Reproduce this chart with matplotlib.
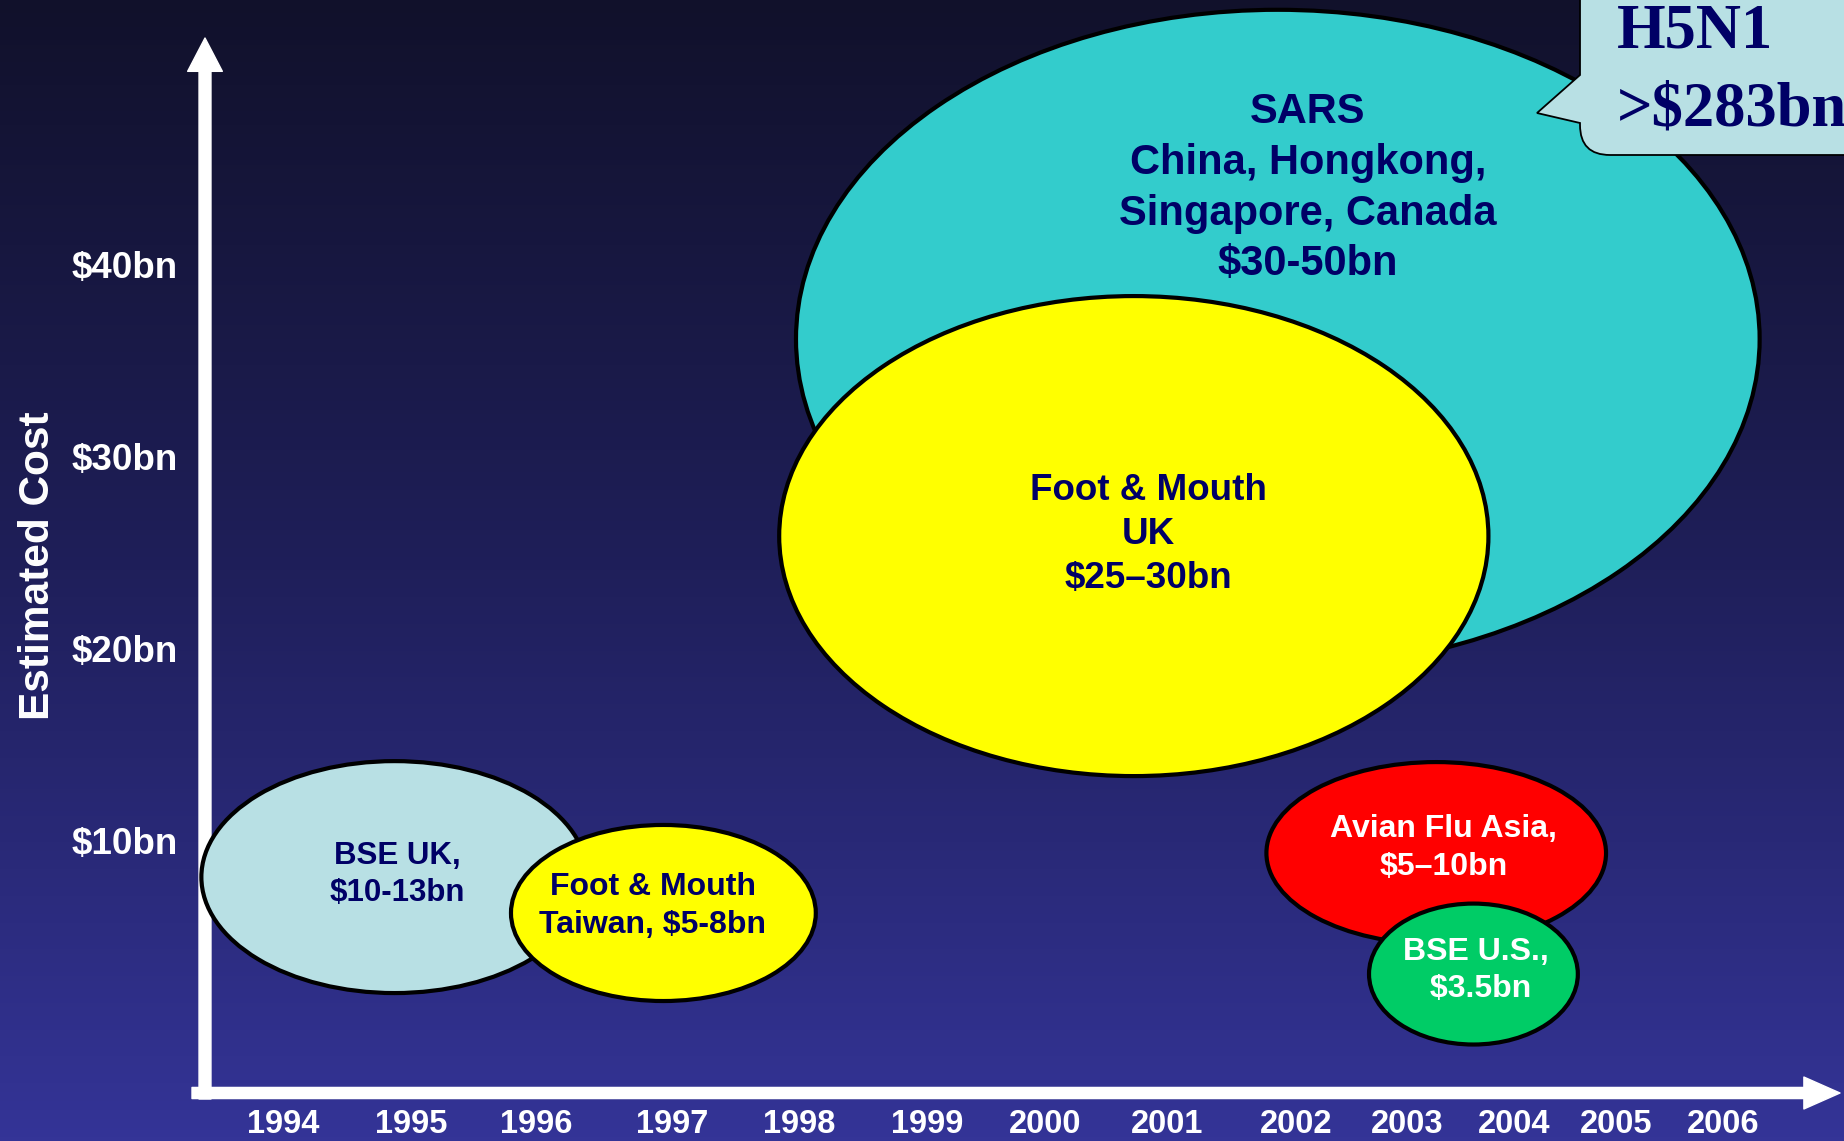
import numpy as np
import matplotlib
matplotlib.use('Agg')
import matplotlib.pyplot as plt
from matplotlib import font_manager
from matplotlib.patches import Ellipse, FancyArrowPatch, PathPatch
from matplotlib.path import Path
from matplotlib.colors import LinearSegmentedColormap

# outbreak bubbles: centre year / centre cost ($bn) and spans
events = ['SARS', 'Foot & Mouth UK', 'BSE UK', 'Foot & Mouth Taiwan',
          'Avian Flu Asia', 'BSE U.S.']
labels = ['SARS\nChina, Hongkong,\nSingapore, Canada\n$30-50bn',
          'Foot & Mouth\nUK\n$25–30bn',
          'BSE UK,\n$10-13bn',
          'Foot & Mouth\nTaiwan, $5-8bn',
          'Avian Flu Asia,\n$5–10bn',
          'BSE U.S.,\n $3.5bn']
center_year = [2002.29, 2001.09, 1994.93, 1997.17, 2003.61, 2003.92]
center_cost = [36.14, 25.88, 8.12, 6.25, 9.37, 3.07]
span_year = [8.03, 5.91, 3.22, 2.54, 2.83, 1.74]
span_cost = [34.3, 25.0, 12.08, 9.17, 9.48, 7.34]
label_year = [2002.54, 2001.21, 1994.95, 1997.08, 2003.67, 2003.94]
label_cost = [44.0, 25.95, 8.25, 6.6, 9.65, 3.25]
fill_colors = ['#33CCCC', '#FFFF00', '#B8E0E4', '#FFFF00', '#FF0000', '#00CC66']
text_colors = ['#000066', '#000066', '#000066', '#000066', 'white', 'white']
label_sizes = [30, 26.5, 22.5, 23, 23, 23]
label_spacing = [1.35, 1.34, 1.33, 1.36, 1.33, 1.33]

years = [1994, 1995, 1996, 1997, 1998, 1999, 2000, 2001, 2002, 2003, 2004, 2005, 2006]
year_pos = [1994.0, 1995.07, 1996.11, 1997.24, 1998.3, 1999.37, 2000.35,
            2001.37, 2002.44, 2003.37, 2004.26, 2005.11, 2006.0]
cost_ticks = [10, 20, 30, 40]
cost_labels = ['$10bn', '$20bn', '$30bn', '$40bn']

W, H = 1844, 1141
installed = {f.name for f in font_manager.fontManager.ttflist}
narrow = 'Liberation Sans Narrow' if 'Liberation Sans Narrow' in installed else 'Liberation Sans'
plt.rcParams['font.family'] = ['Liberation Sans', 'DejaVu Sans']


def P(x, y):
    # pixel position (top-left origin) -> axes fraction
    return (x / W, 1 - y / H)


fig = plt.figure(figsize=(W / 100, H / 100), dpi=100)
ax = fig.add_axes([0, 0, 1, 1])

# background gradient
cmap = LinearSegmentedColormap.from_list('bg', ['#11112b', '#1f1f5a', '#343497'])
ax.imshow(np.linspace(0, 1, 256).reshape(-1, 1), cmap=cmap, aspect='auto',
          extent=(0, 1, 0, 1), transform=ax.transAxes, zorder=0)
ax.set_xlim(1991.642, 2007.008)
ax.set_ylim(-5.625, 53.80)
ax.axis('off')

# axis arrows
ax.add_patch(FancyArrowPatch(P(205, 1099), P(205, 38), transform=ax.transAxes,
                             arrowstyle='Simple,tail_width=8.6,head_width=25,head_length=24',
                             color='white', shrinkA=0, shrinkB=0, zorder=1))
ax.add_patch(FancyArrowPatch(P(192, 1093), P(1840, 1093), transform=ax.transAxes,
                             arrowstyle='Simple,tail_width=8,head_width=23,head_length=26',
                             color='white', shrinkA=0, shrinkB=0, zorder=1))

# bubbles
for i in range(len(events)):
    ax.add_patch(Ellipse((center_year[i], center_cost[i]), span_year[i], span_cost[i],
                         facecolor=fill_colors[i], edgecolor='black', lw=3, zorder=2 + i))
    ax.text(label_year[i], label_cost[i], labels[i], color=text_colors[i],
            fontsize=label_sizes[i], fontweight='bold', ha='center', va='center',
            linespacing=label_spacing[i], zorder=2 + i)

# tick labels
for yr, xp in zip(years, year_pos):
    ax.text(xp, -5.2, str(yr), color='white', fontsize=23.5, fontweight='bold',
            family=narrow, ha='center', va='baseline')
for c, lab in zip(cost_ticks, cost_labels):
    ax.text(1993.12, c - 0.2, lab, color='white', fontsize=26.5, fontweight='bold',
            ha='right', va='center')
ax.text(*P(38, 566), 'Estimated Cost', transform=ax.transAxes, rotation=90,
        color='white', fontsize=30.5, fontweight='bold', family=narrow,
        ha='center', va='center')

# H5N1 callout
verts = [P(1580, -10), P(1580, 75), P(1537, 113), P(1580, 123), P(1580, 125),
         P(1580, 155), P(1610, 155), P(1860, 155), P(1860, -10), P(1580, -10)]
codes = [Path.MOVETO, Path.LINETO, Path.LINETO, Path.LINETO, Path.LINETO,
         Path.CURVE3, Path.CURVE3, Path.LINETO, Path.LINETO, Path.CLOSEPOLY]
ax.add_patch(PathPatch(Path(verts, codes), transform=ax.transAxes,
                       facecolor='#B8E0E4', edgecolor='black', lw=1.3, zorder=10))
ax.text(*P(1617, 48), 'H5N1', transform=ax.transAxes, color='#000066',
        fontsize=45, fontweight='bold', family='Liberation Serif',
        ha='left', va='baseline', zorder=11)
ax.text(*P(1617, 125), '>$283bn', transform=ax.transAxes, color='#000066',
        fontsize=45, fontweight='bold', family='Liberation Serif',
        ha='left', va='baseline', zorder=11)

fig.savefig('out.png', dpi=100)
